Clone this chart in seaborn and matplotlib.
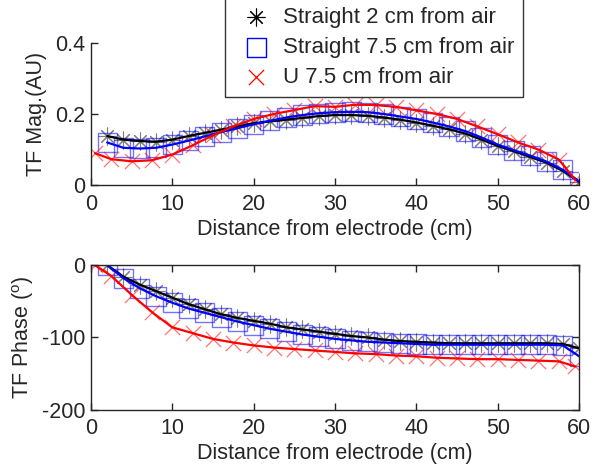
import matplotlib
matplotlib.use("Agg")
import matplotlib.pyplot as plt
import seaborn as sns

# marker positions (cm) and values
dist_s = [2, 4, 6, 8, 10, 12, 14, 16, 18, 20, 22, 24, 26, 28, 30,
          32, 34, 36, 38, 40, 42, 44, 46, 48, 50, 52, 54, 56, 58, 60]
dist_u = [0.5, 2.5, 5, 7.5, 10, 12.5, 15, 17.5, 20, 22.5, 25, 27.5, 30,
          32.5, 35, 37.5, 40, 42.5, 45, 47.5, 50, 52.5, 55, 57.5, 59.5]

mag_s2 = [0.138, 0.128, 0.124, 0.122, 0.128, 0.138, 0.147, 0.156, 0.165, 0.174,
          0.179, 0.184, 0.189, 0.194, 0.197, 0.197, 0.195, 0.190, 0.184, 0.176,
          0.167, 0.157, 0.145, 0.128, 0.110, 0.095, 0.079, 0.063, 0.040, 0.010]
mag_s75 = [0.120, 0.105, 0.103, 0.105, 0.114, 0.125, 0.137, 0.149, 0.160, 0.171,
           0.181, 0.190, 0.197, 0.202, 0.205, 0.206, 0.205, 0.200, 0.193, 0.186,
           0.176, 0.165, 0.152, 0.134, 0.114, 0.098, 0.083, 0.066, 0.043, 0.010]
mag_u75 = [0.090, 0.073, 0.067, 0.070, 0.086, 0.112, 0.140, 0.165, 0.186, 0.200,
           0.211, 0.222, 0.220, 0.226, 0.225, 0.220, 0.210, 0.200, 0.186, 0.165,
           0.143, 0.120, 0.100, 0.072, 0.015]

ph_s2 = [0, -16, -27, -36, -45, -54, -61, -68, -73, -77, -81, -86, -89, -92, -95,
         -98, -100, -103, -105, -106, -107, -108, -108, -108, -108, -108, -108, -108, -109, -115]
ph_s75 = [0, -18, -32, -43, -52, -60, -66, -72, -78, -83, -88, -92, -96, -99, -102,
          -104, -106, -107, -108, -109, -110, -110, -110, -110, -110, -110, -110, -110, -111, -126]
ph_u75 = [0, -15, -41, -65, -86, -94, -102, -107, -111, -114, -116, -118, -120,
          -122, -123, -125, -126, -128, -129, -130, -130, -131, -132, -133, -140]

labels = ["Straight 2 cm from air", "Straight 7.5 cm from air", "U 7.5 cm from air"]

sns.set_style("ticks")
plt.rcParams["font.family"] = ["Liberation Sans", "DejaVu Sans"]
plt.rcParams["mathtext.fontset"] = "custom"
plt.rcParams["mathtext.rm"] = "Liberation Sans"
plt.rcParams["axes.unicode_minus"] = False
plt.rcParams["xtick.direction"] = "in"
plt.rcParams["ytick.direction"] = "in"

FS = 15.5

fig = plt.figure(figsize=(5.94, 4.70), dpi=100)
ax1 = fig.add_axes([0.153, 0.606, 0.822, 0.303])
ax2 = fig.add_axes([0.153, 0.128, 0.822, 0.308])

star = (8, 2, 0)


def draw(ax, ys2, ys75, yu75, legend=False):
    sns.lineplot(x=dist_s, y=ys2, color="k", lw=1.6, ax=ax)
    sns.lineplot(x=dist_s, y=ys75, color="b", lw=1.6, ax=ax)
    sns.lineplot(x=dist_u, y=yu75, color="r", lw=1.6, ax=ax)
    sns.scatterplot(x=dist_s, y=ys2, marker=star, s=150, color="k", linewidth=0.8,
                    alpha=0.5, ax=ax, label=labels[0] if legend else None, legend=False)
    sns.scatterplot(x=dist_s, y=ys75, marker="s", s=190, facecolor="none", edgecolor="b",
                    color="b", linewidth=1.0, alpha=0.55, ax=ax,
                    label=labels[1] if legend else None, legend=False)
    sns.scatterplot(x=dist_u, y=yu75, marker="x", s=120, color="r", linewidth=0.9,
                    alpha=0.55, ax=ax, label=labels[2] if legend else None, legend=False)
    ax.set_xlim(0, 60)
    ax.set_xticks(range(0, 61, 10))
    ax.set_xlabel("Distance from electrode (cm)", fontsize=FS, labelpad=3)
    ax.tick_params(labelsize=FS, length=5, width=1)
    ax.tick_params(axis="x", pad=6)
    ax.tick_params(axis="y", pad=4)
    for sp in ax.spines.values():
        sp.set_linewidth(1)


draw(ax1, mag_s2, mag_s75, mag_u75, legend=True)
ax1.set_ylim(0, 0.4)
ax1.set_yticks([0, 0.2, 0.4])
ax1.set_yticklabels(["0", "0.2", "0.4"])
ax1.set_ylabel("TF Mag.(AU)", fontsize=FS, labelpad=6)
sns.despine(ax=ax1)

draw(ax2, ph_s2, ph_s75, ph_u75)
ax2.set_ylim(-200, 0)
ax2.set_yticks([-200, -100, 0])
ax2.set_ylabel(r"TF Phase ($^\mathrm{o}$)", fontsize=FS, labelpad=4)
ax2.tick_params(top=True, right=True)

leg = ax1.legend(loc="lower left", bbox_to_anchor=(225 / 594, 1 - 97 / 470),
                 bbox_transform=fig.transFigure, frameon=True, fancybox=False,
                 edgecolor="k", fontsize=16, handlelength=2.0, handletextpad=0.2,
                 labelspacing=0.4, borderaxespad=0, borderpad=0.4)
leg.get_frame().set_linewidth(1)
for h in leg.legend_handles:
    h.set_alpha(1)

fig.savefig("out.png", dpi=100)
